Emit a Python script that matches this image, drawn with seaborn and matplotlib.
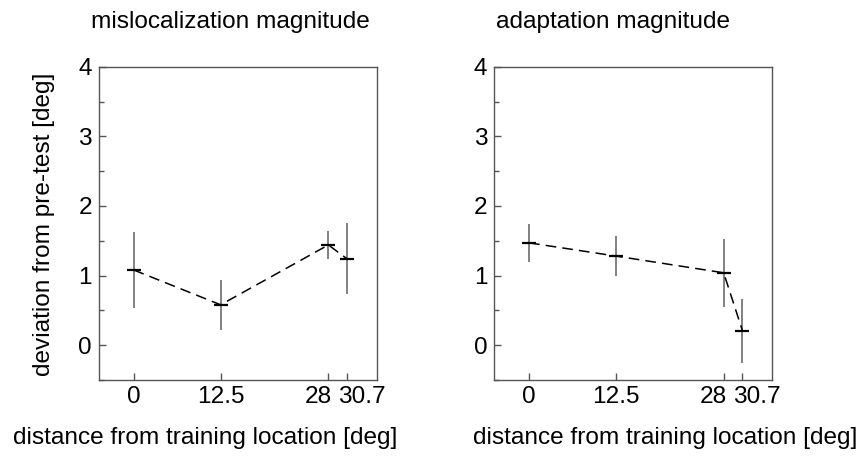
import matplotlib
matplotlib.use("Agg")
import matplotlib.pyplot as plt
import matplotlib.transforms as mtransforms
import seaborn as sns
import pandas as pd
from matplotlib.ticker import MultipleLocator

# ---- data ----
distance = [0, 12.5, 28, 30.7]
tick_labels = ["0", "12.5", "28", "30.7"]
misloc_mean = [1.08, 0.58, 1.44, 1.24]
misloc_err = [0.54, 0.36, 0.20, 0.51]
adapt_mean = [1.47, 1.28, 1.04, 0.21]
adapt_err = [0.27, 0.29, 0.49, 0.46]
titles = ["mislocalization magnitude", "adaptation magnitude"]
xlabel = "distance from training location [deg]"
ylabel = "deviation from pre-test [deg]"

sns.set_theme(style="white")
plt.rcParams["font.family"] = ["Liberation Sans", "DejaVu Sans"]
FS = 17.6

W, H = 862, 457
fig = plt.figure(figsize=(W / 100, H / 100), dpi=100)

ax_left = [99, 494.3]
ax_w = 278
ax_top, ax_bot = 66.7, 380
title_cx = [230, 612.5]
xlab_cx = [205.5, 665]
label_shift_px = [0, 0, -10.5, 14.5]

panels = [(misloc_mean, misloc_err), (adapt_mean, adapt_err)]
for i, (m, e) in enumerate(panels):
    ax = fig.add_axes([ax_left[i] / W, 1 - ax_bot / H, ax_w / W, (ax_bot - ax_top) / H])
    df = pd.DataFrame({"x": distance, "y": m, "e": e})
    ax.errorbar(df["x"], df["y"], yerr=df["e"], fmt="none", ecolor="#777777",
                elinewidth=1.3, capsize=0, zorder=2)
    sns.lineplot(data=df, x="x", y="y", ax=ax, color="black", linewidth=1.1,
                 linestyle=(0, (7, 4)), marker="_", markersize=10.5,
                 markeredgewidth=1.6, markeredgecolor="black", zorder=3)
    ax.set_xlim(-5, 35)
    ax.set_ylim(-0.5, 4)
    ax.set_xticks(distance)
    ax.set_xticklabels(tick_labels)
    ax.set_yticks([0, 1, 2, 3, 4])
    ax.yaxis.set_minor_locator(MultipleLocator(0.5))
    ax.tick_params(axis="both", which="both", direction="in", colors="#555555",
                   labelcolor="black", labelsize=FS, top=False, right=False)
    ax.tick_params(axis="x", which="major", length=5, width=1, pad=4, bottom=True)
    ax.tick_params(axis="y", which="major", length=5, width=1, pad=5, left=True)
    ax.tick_params(axis="y", which="minor", length=3.5, width=1, left=True)
    for lab, dx in zip(ax.get_xticklabels(), label_shift_px):
        off = mtransforms.ScaledTranslation(dx / 100, 0, fig.dpi_scale_trans)
        lab.set_transform(lab.get_transform() + off)
    for s in ax.spines.values():
        s.set_color("#555555")
        s.set_linewidth(1.0)
        s.set_visible(True)
    ax.set_xlabel("")
    ax.set_ylabel("")
    ax.grid(False)
    fig.text(title_cx[i] / W, 1 - 28 / H, titles[i], ha="center", va="baseline",
             fontsize=FS, color="black")
    fig.text(xlab_cx[i] / W, 1 - 444 / H, xlabel, ha="center", va="baseline",
             fontsize=FS, color="black")

fig.text(44 / W, 1 - 224 / H, ylabel, rotation=90, ha="center", va="center",
         fontsize=FS, color="black")

fig.savefig("out.png", dpi=100, facecolor="white")
